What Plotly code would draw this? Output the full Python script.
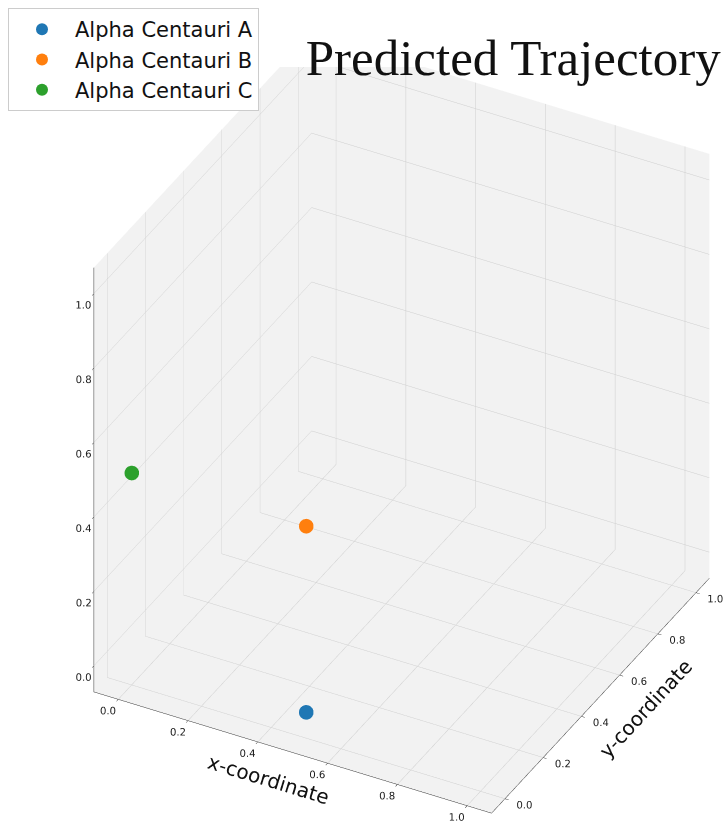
import math
import plotly.graph_objects as go

# Star positions (x, y, z) at the current step of the predicted trajectory
stars = ["Alpha Centauri A", "Alpha Centauri B", "Alpha Centauri C"]
x_vals = [0.5, 0.5, 0.0]
y_vals = [0.0, 0.0, 0.0]
z_vals = [0.0, 0.5, 0.5]
colors = ["#1f77b4", "#ff7f0e", "#2ca02c"]

tick_vals = [0.0, 0.2, 0.4, 0.6, 0.8, 1.0]
tick_text = ["0.0", "0.2", "0.4", "0.6", "0.8", "1.0"]
axis_range = [-0.07, 1.07]

fig = go.Figure()
for i, name in enumerate(stars):
    fig.add_trace(go.Scatter3d(
        x=[x_vals[i]], y=[y_vals[i]], z=[z_vals[i]],
        mode="markers",
        name=name,
        legendgroup=name,
        marker=dict(size=8.5, color=colors[i], line=dict(width=0)),
    ))


def axis(title):
    return dict(
        title=dict(text=title, font=dict(family="DejaVu Sans", size=20, color="#111")),
        range=axis_range,
        tickvals=tick_vals,
        ticktext=tick_text,
        tickangle=0,
        tickfont=dict(family="DejaVu Sans", size=11, color="#222"),
        showbackground=True,
        backgroundcolor="rgb(242,242,242)",
        gridcolor="rgb(206,206,206)",
        gridwidth=1,
        showline=True,
        linecolor="#333",
        linewidth=1,
        zeroline=False,
        ticks="outside",
        ticklen=4,
        tickcolor="#333",
        showspikes=False,
    )


# camera: elevation / azimuth in degrees, orthographic projection
elev, azim = 35.0, -62.0
e, a = math.radians(elev), math.radians(azim)
view_dir = (math.cos(e) * math.cos(a), math.cos(e) * math.sin(a), math.sin(e))
r = 2.0
look_at = (-0.066, -0.084, -0.062)
box_scale = 1.17

fig.update_layout(
    width=728,
    height=837,
    margin=dict(l=0, r=0, t=0, b=0),
    paper_bgcolor="white",
    title=dict(
        text="Predicted Trajectory",
        font=dict(family="Liberation Serif", size=51, color="#111"),
        x=0.99, xanchor="right", xref="container",
        y=1 - 57 / 837, yanchor="middle", yref="container",
    ),
    legend=dict(
        x=8 / 728, y=1 - 8 / 837, xanchor="left", yanchor="top",
        font=dict(family="DejaVu Sans", size=21, color="#111"),
        bgcolor="white",
        bordercolor="#cccccc",
        borderwidth=1,
        tracegroupgap=0,
        itemwidth=56,
        itemsizing="constant",
    ),
    scene=dict(
        domain=dict(x=[0, 1], y=[0, 0.92]),
        xaxis=axis("x-coordinate"),
        yaxis=axis("y-coordinate"),
        zaxis=axis(""),
        aspectmode="manual",
        aspectratio=dict(x=box_scale, y=box_scale * 1.03, z=1.15 * box_scale),
        camera=dict(
            eye=dict(x=look_at[0] + view_dir[0] * r,
                     y=look_at[1] + view_dir[1] * r,
                     z=look_at[2] + view_dir[2] * r),
            center=dict(x=look_at[0], y=look_at[1], z=look_at[2]),
            up=dict(x=0, y=0, z=1),
            projection=dict(type="orthographic"),
        ),
    ),
)

fig.write_html("out.html")
